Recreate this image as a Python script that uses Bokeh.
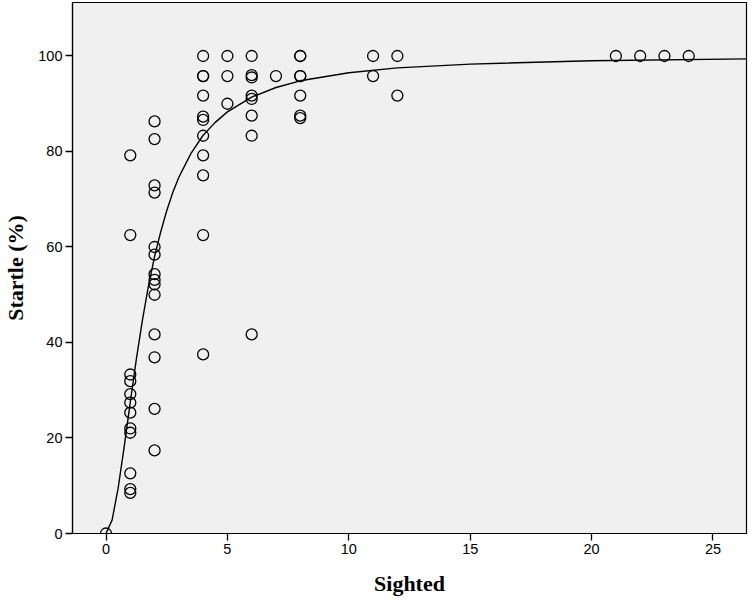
from bokeh.plotting import figure
from bokeh.models import Range1d, FixedTicker
from bokeh.embed import file_html
from bokeh.resources import INLINE

# ---- data ----
sighted_0 = [0]
startle_0 = [0]
sighted_1 = [1] * 12
startle_1 = [79.2, 62.5, 33.3, 31.9, 29.2, 27.4, 25.3, 22.0, 21.1, 12.6, 9.3, 8.5]
sighted_2 = [2] * 14
startle_2 = [86.3, 82.6, 72.9, 71.4, 60.0, 58.4, 54.3, 53.1, 52.2, 50.0, 41.7, 36.9, 26.1, 17.4]
sighted_4 = [4] * 11
startle_4 = [100, 95.8, 95.8, 91.7, 87.3, 86.6, 83.3, 79.2, 75.0, 62.5, 37.5]
sighted_5 = [5] * 3
startle_5 = [100, 95.8, 90.0]
sighted_6 = [6] * 8
startle_6 = [100, 96.0, 95.5, 91.7, 91.0, 87.5, 83.3, 41.7]
sighted_7 = [7]
startle_7 = [95.8]
sighted_8 = [8] * 7
startle_8 = [100, 100, 95.8, 95.8, 91.7, 87.5, 87.0]
sighted_hi = [11, 11, 12, 12, 21, 22, 23, 24]
startle_hi = [100, 95.8, 100, 91.7, 100, 100, 100, 100]

# fitted curve
curve_x = [0, 0.25, 0.5, 0.75, 1, 1.25, 1.5, 1.75, 2, 2.25, 2.5, 2.75, 3, 3.5, 4, 4.5, 5, 6, 7, 8,
           10, 12, 15, 20, 26.4]
curve_y = [0, 2.8, 9.5, 18.2, 27.5, 36.5, 44.7, 51.9, 58.0, 63.1, 67.6, 71.4, 74.6, 79.6, 83.4,
           86.1, 88.3, 91.4, 93.4, 94.8, 96.5, 97.5, 98.3, 99.0, 99.4]

x_ticks = [0, 5, 10, 15, 20, 25]
y_ticks = [0, 20, 40, 60, 80, 100]

xs = sighted_0 + sighted_1 + sighted_2 + sighted_4 + sighted_5 + sighted_6 + sighted_7 + sighted_8 + sighted_hi
ys = startle_0 + startle_1 + startle_2 + startle_4 + startle_5 + startle_6 + startle_7 + startle_8 + startle_hi

p = figure(width=748, height=598, output_backend="svg", toolbar_location=None,
           x_range=Range1d(-1.38, 26.38), y_range=Range1d(0, 111.2),
           min_border_left=63, min_border_right=2, min_border_top=2, min_border_bottom=62)

p.background_fill_color = "#f0f0f0"
p.border_fill_color = "white"
p.outline_line_color = "black"
p.outline_line_width = 1.2
p.xgrid.visible = False
p.ygrid.visible = False

p.line(curve_x, curve_y, line_color="black", line_width=1.4)
p.scatter(xs, ys, marker="circle", size=11, fill_color=None,
          line_color="black", line_width=1.3)

for ax, ticks in ((p.xaxis, x_ticks), (p.yaxis, y_ticks)):
    ax.ticker = FixedTicker(ticks=ticks)
    ax.minor_tick_line_color = None
    ax.major_tick_in = 0
    ax.major_tick_out = 7
    ax.major_tick_line_color = "black"
    ax.major_tick_line_width = 1.3
    ax.axis_line_color = "black"
    ax.axis_line_width = 1.2
    ax.major_label_text_font = "Liberation Sans"
    ax.major_label_text_font_size = "14.5px"
    ax.major_label_text_color = "black"
    ax.axis_label_text_font = "Liberation Serif"
    ax.axis_label_text_font_style = "bold"
    ax.axis_label_text_font_size = "22px"
    ax.axis_label_text_color = "black"

p.xaxis.axis_label = "Sighted"
p.yaxis.axis_label = "Startle (%)"
p.xaxis.major_label_standoff = 3
p.yaxis.major_label_standoff = 3
p.xaxis.axis_label_standoff = 14
p.yaxis.axis_label_standoff = 7

open("out.html", "w").write(file_html(p, INLINE))
